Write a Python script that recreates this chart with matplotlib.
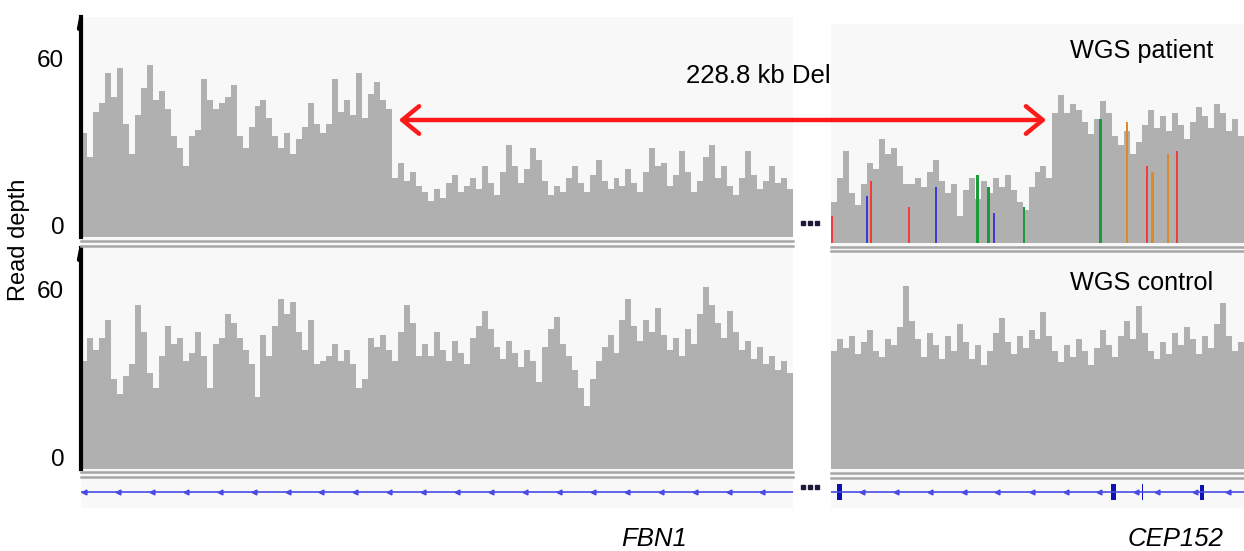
import numpy as np
import matplotlib
matplotlib.use("Agg")
import matplotlib.pyplot as plt
from matplotlib.lines import Line2D
from matplotlib.patches import FancyArrowPatch, Rectangle

plt.rcParams['font.family'] = ['Liberation Sans', 'DejaVu Sans']

# read depth per bin, FBN1 side (left) and CEP152 side (right)
patient_left = [35, 27, 42, 45, 55, 47, 57, 38, 28, 41, 50, 58, 46, 49, 43, 34, 30, 24, 34, 36,
                53, 46, 43, 45, 47, 51, 34, 30, 37, 44, 46, 40, 34, 30, 35, 28, 33, 37, 45, 38,
                35, 38, 53, 42, 46, 41, 55, 40, 48, 52, 46, 43, 20, 25, 19, 22, 17, 15, 12, 16,
                13, 18, 21, 15, 17, 20, 16, 24, 18, 14, 22, 31, 24, 18, 23, 30, 26, 19, 14, 17,
                15, 20, 24, 18, 15, 21, 26, 19, 16, 20, 17, 23, 18, 15, 22, 30, 24, 25, 17, 21,
                29, 22, 15, 19, 27, 31, 20, 24, 17, 14, 20, 29, 21, 16, 19, 24, 18, 20, 16]
patient_right = [14, 22, 31, 17, 13, 20, 27, 25, 35, 30, 32, 26, 20, 20, 22, 19, 24, 28, 21, 17,
                 20, 9, 18, 22, 15, 21, 17, 22, 19, 23, 18, 14, 11, 19, 24, 26, 22, 44, 50, 44,
                 47, 45, 41, 37, 42, 48, 44, 36, 33, 38, 30, 34, 40, 45, 39, 43, 38, 44, 40, 35,
                 41, 46, 43, 39, 47, 44, 38, 42, 36]
control_left = [36, 44, 40, 44, 50, 30, 25, 31, 35, 55, 46, 32, 27, 38, 48, 42, 44, 36, 39, 46,
                38, 27, 42, 44, 52, 49, 44, 40, 35, 24, 45, 38, 48, 57, 52, 56, 46, 40, 50, 35,
                36, 38, 42, 36, 40, 35, 27, 30, 44, 41, 45, 40, 36, 46, 55, 49, 38, 42, 38, 46,
                40, 36, 43, 39, 35, 44, 48, 53, 47, 41, 37, 43, 39, 34, 40, 36, 29, 41, 47, 51,
                42, 38, 33, 27, 21, 30, 36, 41, 45, 39, 50, 57, 48, 43, 50, 46, 54, 45, 40, 44,
                38, 47, 42, 52, 61, 55, 49, 44, 53, 46, 40, 43, 37, 41, 35, 38, 33, 36, 32]
control_right = [40, 44, 41, 45, 39, 43, 47, 40, 38, 44, 42, 48, 62, 50, 44, 38, 46, 42, 37, 45,
                 40, 49, 43, 37, 42, 35, 40, 46, 51, 43, 39, 45, 41, 47, 44, 53, 45, 40, 36, 42,
                 38, 44, 40, 35, 41, 47, 42, 38, 45, 50, 44, 55, 46, 40, 37, 43, 39, 46, 42, 48,
                 44, 39, 45, 41, 49, 56, 45, 40, 43]

# mismatched bases in the patient track (right side)
snv_pos = [0.1, 6.0, 6.7, 13.0, 17.5, 24.5, 26.3, 27.2, 32.2, 45.0, 49.5, 52.8, 53.7, 56.3, 57.8]
snv_depth = [9, 16, 21, 12, 19, 23, 19, 10, 12, 42, 41, 26, 24, 30, 31]
snv_base = ['T', 'C', 'T', 'T', 'C', 'A', 'A', 'C', 'A', 'A', 'G', 'T', 'G', 'G', 'T']
base_colors = {'A': '#1a9c3a', 'C': '#3b3bd6', 'G': '#d98b2b', 'T': '#f03c3c'}

# CEP152 exons: (start, width, height) in bin units
exons = [(1.0, 0.8, 0.55), (46.8, 0.8, 0.55), (51.9, 0.3, 0.55), (61.7, 0.7, 0.5)]

W, H = 1244, 551
YMAX = 74
GRAY = '#b0b0b0'
PANEL_BG = '#f8f8f8'


def box(x0, y0, x1, y1):
    return [x0 / W, 1 - y1 / H, (x1 - x0) / W, (y1 - y0) / H]


def fx(x):
    return x / W


def fy(y):
    return 1 - y / H


fig = plt.figure(figsize=(W / 100, H / 100), dpi=100)

# panel backgrounds
for b in [box(81, 17, 793, 508), box(831, 24, 1244, 508)]:
    bg = fig.add_axes(b)
    bg.set_facecolor(PANEL_BG)
    bg.set_xticks([])
    bg.set_yticks([])
    for s in bg.spines.values():
        s.set_visible(False)


def coverage_axes(b, vals, left_axis):
    ax = fig.add_axes(b)
    ax.patch.set_alpha(0)
    ax.bar(np.arange(len(vals)), vals, width=1.0, align='edge', color=GRAY, linewidth=0)
    ax.set_xlim(0, len(vals))
    ax.set_ylim(0, YMAX)
    ax.set_xticks([])
    for s in ['top', 'right', 'bottom']:
        ax.spines[s].set_visible(False)
    if left_axis:
        ax.spines['left'].set_linewidth(3)
        ax.spines['left'].set_color('black')
        ax.set_yticks([3.7, 60])
        ax.set_yticklabels(['0', '60'], fontsize=17.5)
        ax.tick_params(axis='y', length=0, pad=12)
        # small hook at the top of the scale bar
        ax.plot([0, -0.35], [YMAX - 0.5, YMAX - 4], color='black', lw=3,
                clip_on=False, solid_capstyle='round')
    else:
        ax.spines['left'].set_visible(False)
        ax.set_yticks([])
    return ax


ax_pl = coverage_axes(box(81, 17, 793, 237), patient_left, True)
ax_pr = coverage_axes(box(831, 24, 1244, 243), patient_right, False)
ax_pr.bar(snv_pos, snv_depth, width=0.4, align='center',
          color=[base_colors[b] for b in snv_base], linewidth=0)
ax_cl = coverage_axes(box(81, 248, 793, 469), control_left, True)
ax_cr = coverage_axes(box(831, 250, 1244, 469), control_right, False)

# track separators
for x0, x1, ys in [(81, 793, [241, 246]), (831, 1244, [247, 251]),
                   (81, 793, [472, 477]), (831, 1244, [473, 478])]:
    for y in ys:
        fig.add_artist(Line2D([fx(x0), fx(x1)], [fy(y), fy(y)], color='#a6a6a6', lw=1.8))


# gene tracks
def gene_axes(b, n):
    ax = fig.add_axes(b)
    ax.patch.set_alpha(0)
    ax.set_xlim(0, n)
    ax.set_ylim(0, 1)
    ax.axis('off')
    ax.plot([0, n], [0.53, 0.53], color='#4a4ae8', lw=1.2)
    return ax


ax_gl = gene_axes(box(81, 478, 793, 508), len(control_left))
chev = np.arange(0.5, len(control_left), 5.67)
ax_gl.plot(chev, np.full(len(chev), 0.53), ls='none', marker='<', ms=3.5, color='#4a4ae8')

ax_gr = gene_axes(box(831, 478, 1244, 508), len(control_right))
chev_r = [5.2, 10.8, 16.5, 22.2, 27.8, 33.5, 39.2, 44.8, 51.0, 54.5, 60.8, 66.3]
ax_gr.plot(chev_r, np.full(len(chev_r), 0.53), ls='none', marker='<', ms=3.5, color='#4a4ae8')
for start, width, h in exons:
    ax_gr.add_patch(Rectangle((start, 0.53 - h / 2), width, h, color='#1010b0', lw=0))

# gap markers
for y in [223, 487]:
    for x in [803, 810, 817]:
        fig.add_artist(Line2D([fx(x)], [fy(y)], marker='s', ms=3.2, color='#1a1a3a', ls='none'))

# deletion arrow
arrow = FancyArrowPatch((fx(396), fy(120)), (fx(1049), fy(120)), transform=fig.transFigure,
                        arrowstyle='<->,head_length=0.55,head_width=0.45',
                        mutation_scale=22, color='#ff1a1a', lw=3.2)
fig.add_artist(arrow)
fig.text(fx(758), fy(76), '228.8 kb Del', fontsize=18.5, ha='center', va='center')

fig.text(fx(1142), fy(51), 'WGS patient', fontsize=18.2, ha='center', va='center')
fig.text(fx(1142), fy(283), 'WGS control', fontsize=18.2, ha='center', va='center')
fig.text(fx(19), fy(240), 'Read depth', fontsize=17, rotation=90, ha='center', va='center')
fig.text(fx(654), fy(546), 'FBN1', fontsize=18.5, style='italic', ha='center', va='baseline')
fig.text(fx(1176), fy(546), 'CEP152', fontsize=18.5, style='italic', ha='center', va='baseline')

fig.savefig('out.png', dpi=100)
